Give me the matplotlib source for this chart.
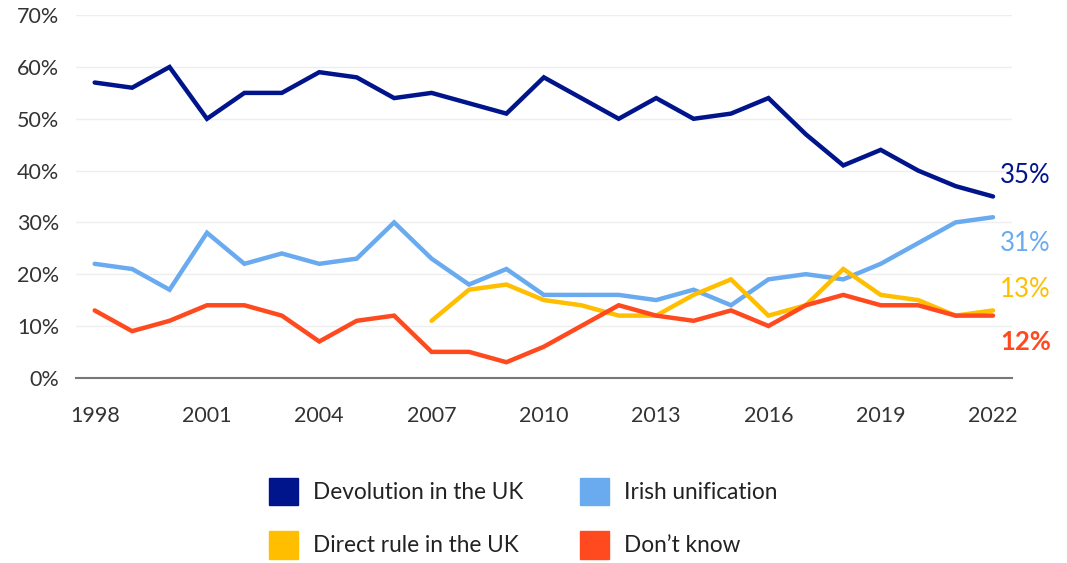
import matplotlib.pyplot as plt
import matplotlib.patches as mpatches
import numpy as np

plt.rcParams['font.family'] = ['Lato', 'DejaVu Sans']

years = list(range(1998, 2023))
devolution = [57, 56, 60, 50, 55, 55, 59, 58, 54, 55, 53, 51, 58, 54, 50, 54, 50, 51, 54, 47, 41, 44, 40, 37, 35]
irish = [22, 21, 17, 28, 22, 24, 22, 23, 30, 23, 18, 21, 16, 16, 16, 15, 17, 14, 19, 20, 19, 22, 26, 30, 31]
direct_years = list(range(2007, 2023))
direct = [11, 17, 18, 15, 14, 12, 12, 16, 19, 12, 14, 21, 16, 15, 12, 13]
dont_know = [13, 9, 11, 14, 14, 12, 7, 11, 12, 5, 5, 3, 6, 10, 14, 12, 11, 13, 10, 14, 16, 14, 14, 12, 12]

names = ['Devolution in the UK', 'Irish unification', 'Direct rule in the UK', "Don\u2019t know"]
colors = ['#00148c', '#6aabf0', '#ffbf00', '#ff4a1f']
yticks = list(range(0, 80, 10))
xticks = list(range(1998, 2023, 3))

fig = plt.figure(figsize=(10.67, 5.63), dpi=100)
ax = fig.add_axes([0.0712, 0.329, 0.877, 0.644])

series = [(years, devolution), (years, irish), (direct_years, direct), (years, dont_know)]
for (xs, ys), color in zip(series, colors):
    ax.plot(xs, ys, color=color, lw=3.2, solid_joinstyle='miter', solid_capstyle='round')

# end-of-line value labels, nudged apart so they don't collide
offsets = [4, -5, 4, -5]
weights = ['normal', 'normal', 'normal', 'bold']
for (xs, ys), color, off, w in zip(series, colors, offsets, weights):
    ax.annotate('{}%'.format(ys[-1]), (xs[-1], ys[-1] + off), xytext=(5, 0),
                textcoords='offset points', color=color, fontsize=18.5, va='center', ha='left',
                fontweight=w, annotation_clip=False)

ax.set_xlim(1997.5, 2022.5)
ax.set_ylim(0, 70)
ax.set_yticks(yticks)
ax.set_yticklabels(['{}%'.format(v) for v in yticks])
ax.set_xticks(xticks)
ax.tick_params(length=0, labelsize=15.5, colors='#333333')
ax.tick_params(axis='y', pad=12)
ax.tick_params(axis='x', pad=20)
ax.grid(axis='y', color='#eeeeee', lw=1)
ax.set_axisbelow(True)
for side in ['top', 'right', 'left']:
    ax.spines[side].set_visible(False)
ax.spines['bottom'].set_color('#777777')
ax.spines['bottom'].set_linewidth(1.5)

handles = [mpatches.Patch(color=c, label=n) for c, n in zip(colors, names)]
order = [0, 2, 1, 3]
fig.legend([handles[i] for i in order], [names[i] for i in order], ncol=2,
           loc='upper left', bbox_to_anchor=(0.233, 0.188), frameon=False,
           fontsize=16.3, handlelength=1.28, handleheight=1.5, handletextpad=0.66,
           columnspacing=2.5, labelspacing=1.15, labelcolor='#222222')

fig.savefig('out.png', dpi=100)
